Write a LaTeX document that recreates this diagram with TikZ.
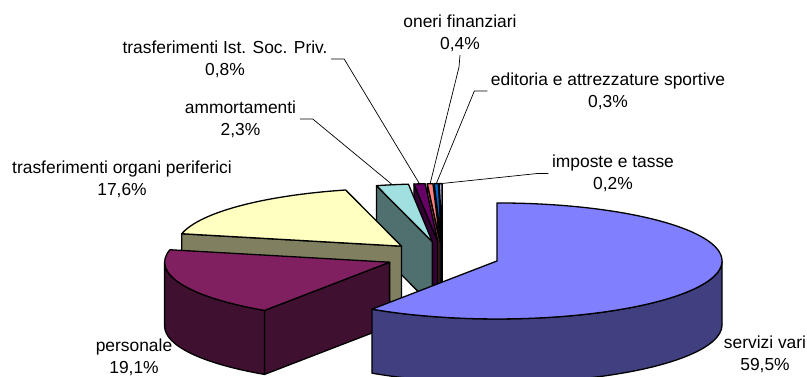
\documentclass[tikz,border=0pt]{standalone}
\usepackage{fontspec}
\setmainfont{Liberation Sans}
\usetikzlibrary{calc}

\definecolor{servtop}{HTML}{8080FF}
\definecolor{servside}{HTML}{404080}
\definecolor{perstop}{HTML}{802060}
\definecolor{persside}{HTML}{401030}
\definecolor{orgtop}{HTML}{FFFFC0}
\definecolor{orgside}{HTML}{808060}
\definecolor{ammtop}{HTML}{A0E0E0}
\definecolor{ammside}{HTML}{507070}
\definecolor{isptop}{HTML}{660066}
\definecolor{ispside}{HTML}{330033}
\definecolor{onetop}{HTML}{FF8080}
\definecolor{oneside}{HTML}{804040}
\definecolor{edtop}{HTML}{0066CC}
\definecolor{edside}{HTML}{003366}
\definecolor{imptop}{HTML}{CCCCFF}
\definecolor{impside}{HTML}{666680}

\begin{document}
\begin{tikzpicture}[x=1pt,y=1pt,line width=1.3pt,line join=round,
  font=\fontsize{17.4}{22}\selectfont,
  rim/.style={x radius=225pt,y radius=58pt},
  lab/.style={align=center,inner sep=3pt},
  leader/.style={line width=0.7pt}]
  \useasboundingbox (0,0) rectangle (807,376);
  \coordinate (O) at (442.5,119.4);
  % small slices and ammortamenti, back to front
  \foreach \ca/\cb/\ctop/\cside/\cname in {
      -269.281/-270/imptop/impside/imp,
      -268.204/-269.281/edtop/edside/ed,
      -266.766/-268.204/onetop/oneside/one,
      -263.892/-266.766/isptop/ispside/isp,
      -255.629/-263.892/ammtop/ammside/amm}{
    \begin{scope}[shift={(O)},shift={({(\ca+\cb)/2}:57pt and 15pt)}]
      \filldraw[fill=\cside] (0,0) -- (\ca:225pt and 58pt) -- ++(0,-64pt) -- (0,-64pt) -- cycle;
      \filldraw[fill=\ctop] (0,0) -- (\ca:225pt and 58pt)
        arc[start angle=\ca,end angle=\cb,rim] -- cycle;
      \coordinate (\cname-rim) at ({(\ca+\cb)/2}:225pt and 58pt);
    \end{scope}
  }
  % trasferimenti organi periferici
  \begin{scope}[shift={(O)},shift={(-224.012:57pt and 15pt)}]
    \filldraw[fill=orgside] (0,0) -- (-192.395:225pt and 58pt) -- ++(0,-64pt) -- (0,-64pt) -- cycle;
    \filldraw[fill=orgtop] (0,0) -- (-192.395:225pt and 58pt)
      arc[start angle=-192.395,end angle=-255.629,rim] -- cycle;
  \end{scope}
  % personale
  \begin{scope}[shift={(O)},shift={(-158.084:57pt and 15pt)}]
    \filldraw[fill=persside] (0,0) -- (-123.772:225pt and 58pt) -- ++(0,-64pt) -- (0,-64pt) -- cycle;
    \filldraw[fill=persside] (-123.772:225pt and 58pt)
      arc[start angle=-123.772,end angle=-180,rim] -- ++(0,-64pt)
      arc[start angle=-180,end angle=-123.772,rim] -- cycle;
    \filldraw[fill=perstop] (0,0) -- (-123.772:225pt and 58pt)
      arc[start angle=-123.772,end angle=-192.395,rim] -- cycle;
  \end{scope}
  % servizi vari
  \begin{scope}[shift={(O)},shift={(-16.886:57pt and 15pt)}]
    \filldraw[fill=servside] (0:225pt and 58pt)
      arc[start angle=0,end angle=-123.772,rim] -- ++(0,-64pt)
      arc[start angle=-123.772,end angle=0,rim] -- cycle;
    \filldraw[fill=servtop] (0,0) -- (90:225pt and 58pt)
      arc[start angle=90,end angle=-123.772,rim] -- cycle;
  \end{scope}
  % labels
  \node[lab] (serv-lab) at (765,22) {servizi vari\\59,5\%};
  \node[lab] (pers-lab) at (134,18.5) {personale\\19,1\%};
  \node[lab] (org-lab) at (122,197) {trasferimenti organi periferici\\17,6\%};
  \node[lab] (amm-lab) at (240.5,257) {ammortamenti\\2,3\%};
  \node[lab] (isp-lab) at (225,317) {trasferimenti Ist. Soc. Priv.\\0,8\%};
  \node[lab] (one-lab) at (460,343) {oneri finanziari\\0,4\%};
  \node[lab] (ed-lab) at (608,285) {editoria e attrezzature sportive\\0,3\%};
  \node[lab] (imp-lab) at (613,202.5) {imposte e tasse\\0,2\%};
  % leaders
  \draw[leader] (amm-lab.east) -- ++(13pt,0) -- (amm-rim);
  \draw[leader] (isp-lab.east) -- ++(13pt,0) -- (isp-rim);
  \draw[leader] (one-lab.south) -- ++(-1pt,-12pt) -- (one-rim);
  \draw[leader] (ed-lab.west) -- ++(-13pt,0) -- (ed-rim);
  \draw[leader] (imp-lab.west) -- ++(-11pt,0) -- (imp-rim);
\end{tikzpicture}
\end{document}
